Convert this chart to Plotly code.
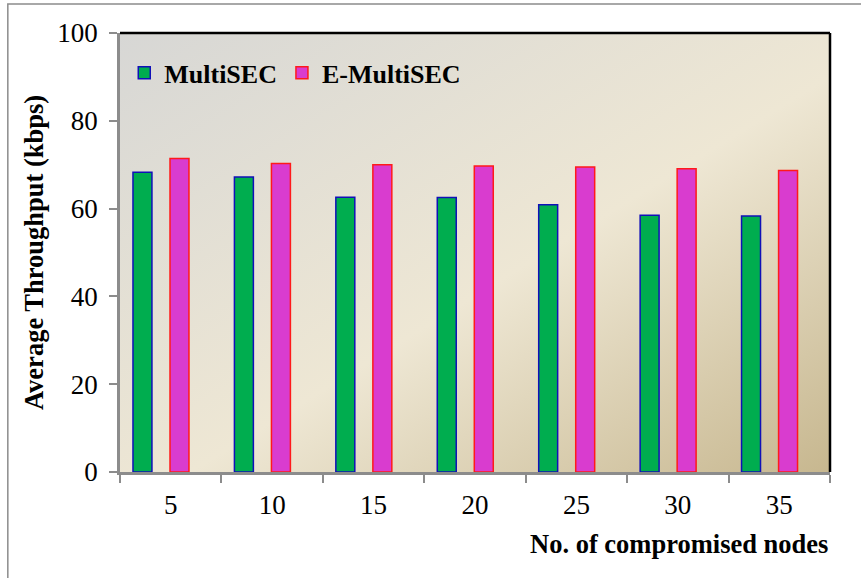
import base64
import plotly.graph_objects as go

# Compromised-node counts and average throughput (kbps) per scheme
nodes = ["5", "10", "15", "20", "25", "30", "35"]
multisec = [68.3, 67.2, 62.6, 62.5, 60.9, 58.5, 58.3]
e_multisec = [71.4, 70.3, 70.0, 69.7, 69.5, 69.1, 68.7]

SERIF = "Liberation Serif, Times New Roman, serif"

fig = go.Figure()
fig.add_trace(go.Bar(
    x=nodes, y=multisec, name="MultiSEC",
    width=0.187, offset=-0.372,
    marker=dict(color="#00ad4f", line=dict(color="#1010b8", width=1.5)),
))
fig.add_trace(go.Bar(
    x=nodes, y=e_multisec, name="E-MultiSEC",
    width=0.187, offset=-0.007,
    marker=dict(color="#d93ccf", line=dict(color="#ff1a1a", width=1.5)),
))

# Diagonal parchment-style gradient behind the plotting area
svg = (
    '<svg xmlns="http://www.w3.org/2000/svg" width="710" height="439" '
    'viewBox="0 0 710 439" preserveAspectRatio="none">'
    '<defs><linearGradient id="g" x1="0" y1="0" x2="1" y2="1">'
    '<stop offset="0" stop-color="#d7d7d5"/>'
    '<stop offset="0.55" stop-color="#eee7d4"/>'
    '<stop offset="1" stop-color="#c7b78f"/>'
    '</linearGradient></defs>'
    '<rect width="710" height="439" fill="url(#g)"/></svg>'
)
svg_uri = "data:image/svg+xml;base64," + base64.b64encode(svg.encode()).decode()

fig.update_layout(
    width=861, height=578,
    margin=dict(l=120, r=31, t=33, b=106),
    paper_bgcolor="white",
    plot_bgcolor="rgba(0,0,0,0)",
    barmode="overlay",
    font=dict(family=SERIF, color="black", size=27),
    images=[dict(
        source=svg_uri, xref="paper", yref="paper",
        x=0, y=1, sizex=1, sizey=1, sizing="stretch",
        xanchor="left", yanchor="top", layer="below",
    )],
    legend=dict(
        orientation="h", x=0.006, y=0.963, xanchor="left", yanchor="top",
        bgcolor="rgba(0,0,0,0)", font=dict(family=SERIF, size=26, weight="bold"),
        itemwidth=30, traceorder="normal",
    ),
    xaxis=dict(
        type="category", tickson="boundaries",
        showline=True, linecolor="#8c8c8c", linewidth=2.5,
        ticks="outside", ticklen=8, tickwidth=2, tickcolor="#8c8c8c",
        showgrid=False, zeroline=False,
        tickfont=dict(family=SERIF, size=27), ticklabelstandoff=7,
        range=[-0.5, 6.5],
    ),
    yaxis=dict(
        range=[0, 100], dtick=20,
        showline=True, linecolor="#8c8c8c", linewidth=2.5,
        ticks="outside", ticklen=8, tickwidth=2, tickcolor="#8c8c8c",
        showgrid=False, zeroline=False,
        tickfont=dict(family=SERIF, size=27), ticklabelstandoff=6,
        title=dict(text="<b>Average Throughput (kbps)</b>",
                   font=dict(family=SERIF, size=26.5), standoff=7),
    ),
    shapes=[
        # top and right edges of the plotting frame
        dict(type="line", xref="paper", yref="paper", x0=0, x1=1, y0=1, y1=1,
             line=dict(color="black", width=2.5)),
        dict(type="line", xref="paper", yref="paper", x0=1, x1=1, y0=0, y1=1,
             line=dict(color="black", width=2.5)),
        # outer chart border
        dict(type="rect", xref="paper", yref="paper",
             x0=-0.158, x1=1.5, y0=-0.5, y1=1.066,
             line=dict(color="#8c8c8c", width=1.5), layer="below"),
    ],
    annotations=[
        dict(text="<b>No. of compromised nodes</b>", xref="paper", yref="paper",
             x=1.0, y=-0.165, xanchor="right", yanchor="middle", showarrow=False,
             font=dict(family=SERIF, size=26.5)),
    ],
)

fig.write_html("out.html")
